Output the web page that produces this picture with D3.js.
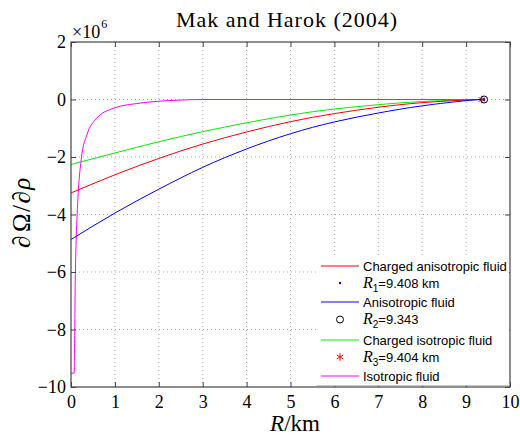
<!DOCTYPE html>
<html>
<head>
<meta charset="utf-8">
<script src="https://cdn.jsdelivr.net/npm/d3@7"></script>
<style>
  body { margin: 0; background: #fff; }
  text { fill: #000; }
</style>
</head>
<body>
<div id="chart"></div>
<script>
// values in units of 1e6 (the axis carries the x10^6 factor)
const xTicks = [0, 1, 2, 3, 4, 5, 6, 7, 8, 9, 10];
const yTicks = [-10, -8, -6, -4, -2, 0, 2];

const redR = [0, 1, 2, 3, 4, 5, 6, 7, 8, 9, 9.408];
const redV = [-3.25, -2.62, -2.05, -1.55, -1.13, -0.77, -0.49, -0.27, -0.11, -0.02, 0];

const blueR = [0, 1, 2, 3, 4, 5, 6, 7, 8, 9, 9.343];
const blueV = [-4.87, -3.95, -3.12, -2.36, -1.72, -1.19, -0.78, -0.47, -0.22, -0.04, 0];

const greenR = [0, 1, 2, 3, 4, 5, 6, 7, 8, 9, 9.404];
const greenV = [-2.26, -1.86, -1.47, -1.12, -0.81, -0.54, -0.33, -0.18, -0.07, -0.01, 0];

const magR = [0, 0.07, 0.1, 0.114, 0.14, 0.24, 0.36, 0.58, 0.96, 1.5, 2.0, 2.5, 3, 9.4];
const magV = [-9.52, -9.52, -6, -5.07, -4, -2, -1.24, -0.66, -0.31, -0.14, -0.06, -0.02, 0, 0];

const markerR = [9.408, 9.41, 9.36];
const markerV = [0, 0, 0];

const legendLabels = ["Charged anisotropic fluid", "R1=9.408 km", "Anisotropic fluid",
  "R2=9.343", "Charged isotropic fluid", "R3=9.404 km", "Isotropic fluid"];

const W = 520, H = 435;
const m = { left: 71, right: 10, top: 42, bottom: 48 };

const svg = d3.select("#chart").append("svg")
  .attr("width", W).attr("height", H);

const x = d3.scaleLinear().domain([0, 10]).range([m.left, W - m.right]);
const y = d3.scaleLinear().domain([-10, 2]).range([H - m.bottom, m.top]);

const serif = "'Liberation Serif', 'DejaVu Serif', serif";
const sans = "'Liberation Sans', Arial, sans-serif";

// grid
const grid = svg.append("g").attr("stroke", "#a8a8a8").attr("stroke-dasharray", "1,3").attr("stroke-width", 1);
grid.selectAll(".gx").data(xTicks.slice(1, -1)).enter().append("line")
  .attr("x1", d => x(d)).attr("x2", d => x(d)).attr("y1", y(-10)).attr("y2", y(2));
grid.selectAll(".gy").data(yTicks.slice(1, -1)).enter().append("line")
  .attr("y1", d => y(d)).attr("y2", d => y(d)).attr("x1", x(0)).attr("x2", x(10));

// curves
const smooth = d3.line().x(d => x(d[0])).y(d => y(d[1])).curve(d3.curveNatural);
const mono = d3.line().x(d => x(d[0])).y(d => y(d[1])).curve(d3.curveMonotoneX);
const series = [
  { r: magR, v: magV, c: "#ff00ff", gen: mono },
  { r: greenR, v: greenV, c: "#00ee00", gen: smooth },
  { r: redR, v: redV, c: "#ff0000", gen: smooth },
  { r: blueR, v: blueV, c: "#0000ff", gen: smooth }
];
series.forEach(s => {
  svg.append("path")
    .datum(d3.zip(s.r, s.v))
    .attr("fill", "none").attr("stroke", s.c).attr("stroke-width", 1)
    .attr("d", s.gen);
});

// markers
const star = d3.symbol().type(d3.symbolAsterisk).size(40);
svg.append("path").attr("d", star())
  .attr("transform", `translate(${x(markerR[2])},${y(markerV[2])})`)
  .attr("fill", "none").attr("stroke", "#ff0000").attr("stroke-width", 1);
svg.append("circle").attr("cx", x(markerR[1])).attr("cy", y(markerV[1])).attr("r", 3.5)
  .attr("fill", "none").attr("stroke", "#000").attr("stroke-width", 1);
svg.append("circle").attr("cx", x(markerR[0])).attr("cy", y(markerV[0])).attr("r", 1.2)
  .attr("fill", "#0000ff");

// axes
svg.append("rect").attr("x", x(0)).attr("y", y(2)).attr("width", x(10) - x(0)).attr("height", y(-10) - y(2))
  .attr("fill", "none").attr("stroke", "#444").attr("stroke-width", 1.2);

const axBottom = svg.append("g").attr("transform", `translate(0,${y(-10)})`)
  .call(d3.axisBottom(x).tickValues(xTicks).tickSizeInner(-5).tickSizeOuter(0).tickPadding(8));
const axTop = svg.append("g").attr("transform", `translate(0,${y(2)})`)
  .call(d3.axisTop(x).tickValues(xTicks).tickSizeInner(-5).tickSizeOuter(0).tickFormat(""));
const axLeft = svg.append("g").attr("transform", `translate(${x(0)},0)`)
  .call(d3.axisLeft(y).tickValues(yTicks).tickSizeInner(-5).tickSizeOuter(0).tickPadding(5)
    .tickFormat(d => d < 0 ? "\u2212" + Math.abs(d) : d));
const axRight = svg.append("g").attr("transform", `translate(${x(10)},0)`)
  .call(d3.axisRight(y).tickValues(yTicks).tickSizeInner(-5).tickSizeOuter(0).tickFormat(""));
[axBottom, axTop, axLeft, axRight].forEach(g => {
  g.attr("font-family", serif).attr("font-size", 18);
  g.select(".domain").remove();
  g.selectAll(".tick line").attr("stroke", "#444");
  g.selectAll(".tick text").style("font-family", serif).style("font-size", "18px").attr("fill", "#000");
});

// legend
const lg = svg.append("g");
const lx = 316.5, ly = 255;
lg.append("rect").attr("x", lx).attr("y", ly).attr("width", x(10) - lx - 1).attr("height", y(-10) - ly - 1)
  .attr("fill", "#fff");
lg.append("line").attr("x1", lx).attr("x2", x(10) - 1).attr("y1", 385.5).attr("y2", 385.5)
  .attr("stroke", "#c8c8c8");
const rowY = [266, 283, 302, 319.5, 340, 357, 376];
const lineRows = [[0, "#ff0000"], [2, "#0000ff"], [4, "#00ee00"], [6, "#ff00ff"]];
lineRows.forEach(([i, c]) => {
  lg.append("line").attr("x1", 321).attr("x2", 359).attr("y1", rowY[i]).attr("y2", rowY[i])
    .attr("stroke", c).attr("stroke-width", 1);
});
lg.append("circle").attr("cx", 340).attr("cy", rowY[1]).attr("r", 1.2).attr("fill", "#0000ff");
lg.append("circle").attr("cx", 340).attr("cy", rowY[3]).attr("r", 3.5).attr("fill", "none").attr("stroke", "#000");
lg.append("path").attr("d", star()).attr("transform", `translate(340,${rowY[5]})`)
  .attr("fill", "none").attr("stroke", "#ff0000");

legendLabels.forEach((t, i) => {
  const tx = lg.append("text").attr("x", 363).attr("y", rowY[i] + 4.5)
    .attr("font-family", sans).attr("font-size", 13);
  const mm = t.match(/^R(\d)(=.*)$/);
  if (mm) {
    tx.append("tspan").attr("font-family", serif).attr("font-style", "italic").attr("font-size", 16).text("R");
    tx.append("tspan").attr("font-size", 10).attr("dy", 4).text(mm[1]);
    tx.append("tspan").attr("dy", -4).text(mm[2]);
  } else {
    tx.text(t);
  }
});

// title
svg.append("text").attr("x", 287).attr("y", 27).attr("text-anchor", "middle")
  .attr("font-family", serif).attr("font-size", 22).attr("letter-spacing", 1)
  .text("Mak and Harok (2004)");

// exponent
const ex = svg.append("text").attr("x", 72).attr("y", 38).attr("font-family", serif).attr("font-size", 18);
ex.append("tspan").text("\u00d710");
ex.append("tspan").attr("font-size", 12).attr("dy", -10).attr("dx", 1).text("6");

// axis labels
const xl = svg.append("text").attr("x", 295).attr("y", 431).attr("text-anchor", "middle")
  .attr("font-family", serif).attr("font-size", 23);
xl.append("tspan").attr("font-style", "italic").text("R");
xl.append("tspan").text("/km");

const yl = svg.append("text").attr("transform", "translate(30,212) rotate(-90)").attr("text-anchor", "middle")
  .attr("font-family", serif).attr("font-size", 25).attr("letter-spacing", 1.5);
yl.append("tspan").attr("font-style", "italic").text("\u2202");
yl.append("tspan").attr("dx", 2).text("\u03a9/");
yl.append("tspan").attr("font-style", "italic").text("\u2202\u03c1");
</script>
</body>
</html>
